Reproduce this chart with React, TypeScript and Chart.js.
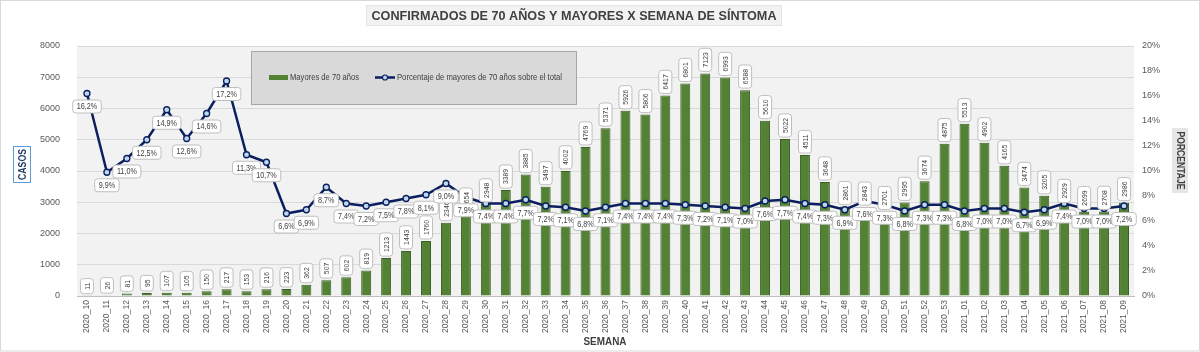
import React, { useEffect, useRef } from "react";
import { Chart, registerables } from "chart.js";
Chart.register(...registerables);

const semanas = [
  "2020_10","2020_11","2020_12","2020_13","2020_14","2020_15","2020_16","2020_17","2020_18","2020_19",
  "2020_20","2020_21","2020_22","2020_23","2020_24","2020_25","2020_26","2020_27","2020_28","2020_29",
  "2020_30","2020_31","2020_32","2020_33","2020_34","2020_35","2020_36","2020_37","2020_38","2020_39",
  "2020_40","2020_41","2020_42","2020_43","2020_44","2020_45","2020_46","2020_47","2020_48","2020_49",
  "2020_50","2020_51","2020_52","2020_53","2021_01","2021_02","2021_03","2021_04","2021_05","2021_06",
  "2021_07","2021_08","2021_09",
];

const mayores70 = [
  11, 26, 81, 95, 107, 105, 150, 217, 153, 216,
  223, 362, 507, 602, 819, 1213, 1443, 1760, 2346, 2654,
  2948, 3389, 3885, 3497, 4002, 4769, 5371, 5926, 5806, 6417,
  6801, 7123, 6993, 6588, 5610, 5022, 4511, 3648, 2861, 2843,
  2701, 2995, 3674, 4875, 5513, 4902, 4165, 3474, 3205, 2929,
  2699, 2708, 2986,
];

const porcentaje = [
  16.2, 9.9, 11.0, 12.5, 14.9, 12.6, 14.6, 17.2, 11.3, 10.7,
  6.6, 6.9, 8.7, 7.4, 7.2, 7.5, 7.8, 8.1, 9.0, 7.9,
  7.4, 7.4, 7.7, 7.2, 7.1, 6.8, 7.1, 7.4, 7.4, 7.4,
  7.3, 7.2, 7.1, 7.0, 7.6, 7.7, 7.4, 7.3, 6.9, 7.6,
  7.3, 6.8, 7.3, 7.3, 6.8, 7.0, 7.0, 6.7, 6.9, 7.4,
  7.0, 7.0, 7.2,
];

const casosMax = 8000;
const casosStep = 1000;
const pctMax = 20;
const pctStep = 2;

const titulo = "CONFIRMADOS DE 70 AÑOS Y MAYORES X SEMANA DE SÍNTOMA";
const serieBarras = "Mayores de 70 años";
const serieLinea = "Porcentaje de mayores de 70 años sobre el total";

const SANS = "'Liberation Sans', Arial, sans-serif";
const GREEN = "#548235";
const GREEN_DARK = "#3b5e24";
const NAVY = "#0b1f5e";

function roundRect(ctx: CanvasRenderingContext2D, x: number, y: number, w: number, h: number, r: number) {
  ctx.beginPath();
  ctx.moveTo(x + r, y);
  ctx.lineTo(x + w - r, y);
  ctx.quadraticCurveTo(x + w, y, x + w, y + r);
  ctx.lineTo(x + w, y + h - r);
  ctx.quadraticCurveTo(x + w, y + h, x + w - r, y + h);
  ctx.lineTo(x + r, y + h);
  ctx.quadraticCurveTo(x, y + h, x, y + h - r);
  ctx.lineTo(x, y + r);
  ctx.quadraticCurveTo(x, y, x + r, y);
  ctx.closePath();
}

// draw text horizontally compressed (Calibri-like narrow look)
function fillNarrow(ctx: CanvasRenderingContext2D, txt: string, x: number, y: number, sx: number) {
  ctx.save();
  ctx.translate(x, y);
  ctx.scale(sx, 1);
  ctx.fillText(txt, 0, 0);
  ctx.restore();
}

const fmtPct = (v: number) => v.toFixed(1).replace(".", ",") + "%";

const decorPlugin = {
  id: "decor",
  beforeDraw(chart: any) {
    const { ctx, chartArea: a, width, height } = chart;
    ctx.save();
    ctx.fillStyle = "#ffffff";
    ctx.fillRect(0, 0, width, height);
    ctx.fillStyle = "#f2f2f2";
    ctx.fillRect(a.left, a.top, a.right - a.left, a.bottom - a.top);
    ctx.restore();
  },
  afterDatasetsDraw(chart: any) {
    const { ctx } = chart;
    ctx.save();
    const SX = 0.85;
    // bar labels
    const barMeta = chart.getDatasetMeta(1);
    ctx.font = `8px ${SANS}`;
    barMeta.data.forEach((el: any, i: number) => {
      const txt = String(mayores70[i]);
      const tw = ctx.measureText(txt).width * SX;
      const bw = 13;
      const bh = tw + 8;
      const cx = el.x;
      const bottom = el.y - 2;
      roundRect(ctx, cx - bw / 2, bottom - bh, bw, bh, 3);
      ctx.fillStyle = "#ffffff";
      ctx.fill();
      ctx.strokeStyle = "#bfbfbf";
      ctx.lineWidth = 1;
      ctx.stroke();
      ctx.save();
      ctx.translate(cx, bottom - bh / 2);
      ctx.rotate(-Math.PI / 2);
      ctx.fillStyle = "#404040";
      ctx.textAlign = "center";
      ctx.textBaseline = "middle";
      fillNarrow(ctx, txt, 0, 0.5, SX);
      ctx.restore();
    });
    // line labels
    const lineMeta = chart.getDatasetMeta(0);
    ctx.font = `8.5px ${SANS}`;
    lineMeta.data.forEach((el: any, i: number) => {
      const txt = fmtPct(porcentaje[i]);
      const tw = ctx.measureText(txt).width * SX;
      const bw = tw + 8;
      const bh = 13;
      const cx = el.x;
      const cy = el.y + 13;
      roundRect(ctx, cx - bw / 2, cy - bh / 2, bw, bh, 3);
      ctx.fillStyle = "#ffffff";
      ctx.fill();
      ctx.strokeStyle = "#bfbfbf";
      ctx.lineWidth = 1;
      ctx.stroke();
      ctx.fillStyle = "#404040";
      ctx.textAlign = "center";
      ctx.textBaseline = "middle";
      fillNarrow(ctx, txt, cx, cy + 0.5, SX);
    });
    ctx.restore();
  },
  afterDraw(chart: any) {
    const { ctx, width, height } = chart;
    ctx.save();
    // title
    ctx.font = `bold 13px ${SANS}`;
    const rawW = ctx.measureText(titulo).width;
    const targetW = 405;
    const sxT = targetW / rawW;
    const tcx = 574;
    ctx.fillStyle = "#f2f2f2";
    ctx.fillRect(366, 5.5, 415, 20);
    ctx.strokeStyle = "#e3e3e3";
    ctx.lineWidth = 1;
    ctx.strokeRect(366.5, 5.5, 415, 20);
    ctx.fillStyle = "#404040";
    ctx.textAlign = "center";
    ctx.textBaseline = "middle";
    fillNarrow(ctx, titulo, tcx, 16, sxT);

    // legend
    ctx.fillStyle = "#d9d9d9";
    ctx.fillRect(251, 51, 325, 53);
    ctx.strokeStyle = "#a6a6a6";
    ctx.strokeRect(251.5, 51.5, 325, 53);
    ctx.fillStyle = GREEN;
    ctx.fillRect(269, 75, 19, 5);
    ctx.font = `9px ${SANS}`;
    ctx.fillStyle = "#404040";
    ctx.textAlign = "left";
    ctx.textBaseline = "middle";
    const w1 = ctx.measureText(serieBarras).width;
    fillNarrow(ctx, serieBarras, 290, 77.5, 69 / w1);
    ctx.strokeStyle = NAVY;
    ctx.lineWidth = 2.5;
    ctx.beginPath();
    ctx.moveTo(375, 77.5);
    ctx.lineTo(395, 77.5);
    ctx.stroke();
    ctx.beginPath();
    ctx.arc(385, 77.5, 2.5, 0, Math.PI * 2);
    ctx.fillStyle = "#bdd7ee";
    ctx.fill();
    ctx.lineWidth = 1.2;
    ctx.stroke();
    ctx.fillStyle = "#404040";
    const w2 = ctx.measureText(serieLinea).width;
    fillNarrow(ctx, serieLinea, 397, 77.5, 165 / w2);

    // CASOS
    ctx.fillStyle = "#ffffff";
    ctx.fillRect(13, 146, 18, 37);
    ctx.strokeStyle = "#5b9bd5";
    ctx.lineWidth = 1;
    ctx.strokeRect(13.5, 146.5, 17, 36);
    ctx.save();
    ctx.translate(22.5, 164.5);
    ctx.rotate(-Math.PI / 2);
    ctx.font = `bold 11px ${SANS}`;
    ctx.fillStyle = "#1f3864";
    ctx.textAlign = "center";
    ctx.textBaseline = "middle";
    const wc = ctx.measureText("CASOS").width;
    fillNarrow(ctx, "CASOS", 0, 0, 31 / wc);
    ctx.restore();

    // PORCENTAJE
    ctx.fillStyle = "#e7e6e6";
    ctx.fillRect(1172, 128, 16, 65);
    ctx.save();
    ctx.translate(1180, 160.5);
    ctx.rotate(Math.PI / 2);
    ctx.font = `bold 11px ${SANS}`;
    ctx.fillStyle = "#404040";
    ctx.textAlign = "center";
    ctx.textBaseline = "middle";
    const wp = ctx.measureText("PORCENTAJE").width;
    fillNarrow(ctx, "PORCENTAJE", 0, 0, 58 / wp);
    ctx.restore();

    // SEMANA
    ctx.font = `bold 11px ${SANS}`;
    ctx.fillStyle = "#404040";
    ctx.textAlign = "center";
    ctx.textBaseline = "middle";
    const ws = ctx.measureText("SEMANA").width;
    fillNarrow(ctx, "SEMANA", 605, 342, 43 / ws);

    // outer border
    ctx.strokeStyle = "#d9d9d9";
    ctx.lineWidth = 1;
    ctx.strokeRect(0.5, 0.5, width - 1, height - 1.5);
    ctx.restore();
  },
};

export default function App() {
  const ref = useRef<HTMLCanvasElement | null>(null);
  useEffect(() => {
    document.body.style.margin = "0";
    const canvas = ref.current;
    if (!canvas) return;
    const chart = new Chart(canvas, {
      type: "bar",
      data: {
        labels: semanas,
        datasets: [
          {
            type: "line",
            label: serieLinea,
            data: porcentaje,
            yAxisID: "y1",
            borderColor: NAVY,
            borderWidth: 2.5,
            pointRadius: 3,
            pointBackgroundColor: "#bdd7ee",
            pointBorderColor: NAVY,
            pointBorderWidth: 1.3,
            tension: 0,
            order: 1,
          } as any,
          {
            type: "bar",
            label: serieBarras,
            data: mayores70,
            yAxisID: "y",
            backgroundColor: GREEN,
            borderColor: GREEN_DARK,
            borderWidth: 1,
            barPercentage: 0.5,
            categoryPercentage: 1,
            order: 2,
          } as any,
        ],
      },
      options: {
        responsive: false,
        animation: false,
        devicePixelRatio: 1,
        layout: { padding: { top: 46, left: 0, right: 0, bottom: 0 } },
        plugins: {
          legend: { display: false },
          title: { display: false },
          tooltip: { enabled: false },
        },
        scales: {
          x: {
            grid: { display: false, drawTicks: false },
            border: { display: true, color: "#bfbfbf" },
            ticks: {
              minRotation: 90,
              maxRotation: 90,
              autoSkip: false,
              padding: 4,
              color: "#595959",
              font: { family: SANS, size: 8.5 },
            },
            afterFit: (s: any) => {
              s.height = 56;
            },
          },
          y: {
            position: "left",
            min: 0,
            max: casosMax,
            ticks: {
              stepSize: casosStep,
              padding: 17,
              color: "#595959",
              font: { family: SANS, size: 9 },
              callback: (v: any) => String(Math.round(Number(v))),
            },
            grid: { color: "#d9d9d9", drawTicks: false },
            border: { display: false },
            afterFit: (s: any) => {
              s.width = 77;
            },
          },
          y1: {
            position: "right",
            min: 0,
            max: pctMax,
            ticks: {
              stepSize: pctStep,
              padding: 8,
              color: "#595959",
              font: { family: SANS, size: 9 },
              callback: (v: any) => Math.round(Number(v)) + "%",
            },
            grid: { display: false, drawTicks: false },
            border: { display: false },
            afterFit: (s: any) => {
              s.width = 66;
            },
          },
        },
      } as any,
      plugins: [decorPlugin],
    });
    return () => chart.destroy();
  }, []);
  return (
    <div style={{ width: 1200, height: 352 }}>
      <canvas ref={ref} width={1200} height={352} style={{ display: "block", width: 1200, height: 352 }} />
    </div>
  );
}
